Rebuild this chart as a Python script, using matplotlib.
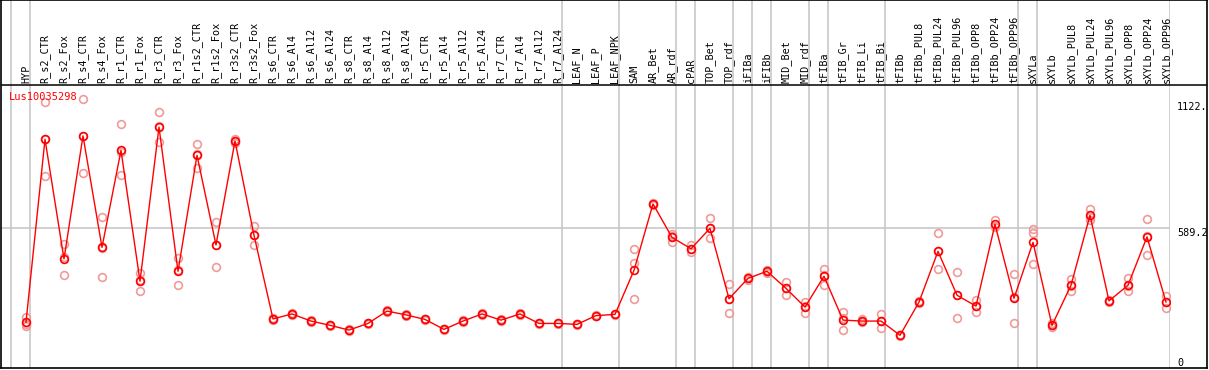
import numpy as np
import matplotlib
matplotlib.use('Agg')
import matplotlib.pyplot as plt
import matplotlib.transforms as mtransforms

# sample names (x categories)
samples = ['HYP', 'R_s2_CTR', 'R_s2_Fox', 'R_s4_CTR', 'R_s4_Fox', 'R_r1_CTR', 'R_r1_Fox',
           'R_r3_CTR', 'R_r3_Fox', 'R_r1s2_CTR', 'R_r1s2_Fox', 'R_r3s2_CTR', 'R_r3s2_Fox',
           'R_s6_CTR', 'R_s6_Al4', 'R_s6_Al12', 'R_s6_Al24', 'R_s8_CTR', 'R_s8_Al4', 'R_s8_Al12',
           'R_s8_Al24', 'R_r5_CTR', 'R_r5_Al4', 'R_r5_Al12', 'R_r5_Al24', 'R_r7_CTR', 'R_r7_Al4',
           'R_r7_Al12', 'R_r7_Al24', 'LEAF_N', 'LEAF_P', 'LEAF_NPK', 'SAM', 'AR_Bet', 'AR_rdf',
           'cPAR', 'TOP_Bet', 'TOP_rdf', 'iFIBa', 'iFIBb', 'MID_Bet', 'MID_rdf', 'tFIBa',
           'tFIB_Gr', 'tFIB_Li', 'tFIB_Bi', 'tFIBb', 'tFIBb_PUL8', 'tFIBb_PUL24', 'tFIBb_PUL96',
           'tFIBb_OPP8', 'tFIBb_OPP24', 'tFIBb_OPP96', 'sXYLa', 'sXYLb', 'sXYLb_PUL8',
           'sXYLb_PUL24', 'sXYLb_PUL96', 'sXYLb_OPP8', 'sXYLb_OPP24', 'sXYLb_OPP96']

# first sample of each group (vertical separators), last entry closes the final group
group_starts = [0, 1, 29, 32, 35, 36, 38, 39, 40, 42, 43, 46, 53, 54, 61]

# mean expression
mean_expr = [193, 965, 460, 979, 509, 918, 366, 1016, 408, 897, 519, 957, 560,
             207, 228, 198, 180, 160, 188, 240,
             224, 205, 163, 198, 228, 202, 228, 188, 188, 184, 221, 226,
             412, 692, 551, 503, 589, 292, 378, 408, 336,
             257, 387, 202, 198, 198, 138, 278, 492, 307, 261, 606, 294,
             530, 180, 349, 644, 283, 349, 553, 278]

# replicates
rep1 = [216, 1120, 522, 1135, 637, 1028, 402, 1078, 463, 944, 614, 965, 599,
        210, 231, 201, 183, 163, 191, 243,
        227, 208, 166, 201, 231, 205, 231, 191, 191, 187, 224, 229,
        501, 697, 565, 520, 631, 353, 385, 415, 362,
        278, 418, 236, 205, 227, 141, 281, 568, 404, 287, 624, 395,
        585, 188, 375, 671, 287, 378, 627, 304]
rep2 = [177, 809, 391, 822, 383, 813, 325, 952, 349, 845, 426, 948, 517,
        204, 225, 195, 177, 157, 185, 237,
        221, 202, 160, 195, 225, 199, 225, 185, 185, 181, 218, 223,
        292, 686, 533, 488, 547, 231, 372, 402, 307,
        231, 351, 159, 192, 167, 135, 275, 416, 210, 235, 596, 189,
        568, 172, 326, 624, 279, 324, 475, 254]
rep3 = [186, 965, 467, 980, 508, 913, 371, 1019, 412, 902, 517, 958, 563,
        207, 228, 198, 180, 160, 188, 240,
        224, 205, 163, 198, 228, 202, 228, 188, 188, 184, 221, 226,
        442, 692, 556, 502, 590, 293, 378, 407, 339,
        263, 391, 212, 198, 200, 138, 278, 492, 307, 262, 598, 298,
        439, 180, 346, 637, 283, 345, 556, 277]

gene = 'Lus10035298'
ytick_vals = [0, 589.2, 1122]
ytick_text = ['0', '589.2', '1122.']

W, H = 1209, 370
fig = plt.figure(figsize=(W / 100, H / 100), dpi=100)
fig.patch.set_facecolor('white')

# pixel geometry
x_left, x_right = 1, 1170
y_sep, y_bot = 85, 368
px_per_cat, x0_px = 19, 26

ax = fig.add_axes([x_left / W, (H - y_bot) / H, (x_right - x_left) / W, (y_bot - y_sep) / H])
ax_lab = fig.add_axes([x_left / W, (H - y_sep) / H, (x_right - x_left) / W, y_sep / H], sharex=ax)

xlim = ((x_left - x0_px) / px_per_cat, (x_right - x0_px) / px_per_cat)
ax.set_xlim(*xlim)
ax.set_ylim(0, (y_bot - y_sep) * 4.218)
ax_lab.set_ylim(0, 1)

for a in (ax, ax_lab):
    a.set_axis_off()
    for g in group_starts:
        a.axvline(g - 0.79, color='#c4c4c4', lw=1.1, zorder=0)

ax.axhline(589.2, color='#c4c4c4', lw=1.1, zorder=0)

x = np.arange(len(samples))
mk = dict(marker='o', markersize=5.6, mfc='none', linestyle='none', mew=1.2)
for rep in (rep1, rep2, rep3):
    ax.plot(x, rep, mec='#f09a9a', zorder=2, **mk)
ax.plot(x, mean_expr, color='#ff0000', lw=1, zorder=3)
ax.plot(x, mean_expr, mec='#ff0000', zorder=4, **mk)

mono = 'DejaVu Sans Mono'
for i, s in enumerate(samples):
    ax_lab.text(i, 0.025, s, rotation=90, ha='center', va='bottom',
                fontsize=7.3, family=mono, color='black')

ax.text(-0.9, 1 - 12 / (y_bot - y_sep), gene,
        transform=mtransforms.blended_transform_factory(ax.transData, ax.transAxes),
        fontsize=7.5, family=mono, color='#ff0000', ha='left', va='center')

trans = mtransforms.blended_transform_factory(fig.transFigure, ax.transData)
for v, t in zip(ytick_vals, ytick_text):
    ax.text(1177 / W, v, t, transform=trans, fontsize=7.3, family=mono,
            ha='left', va='bottom' if v == 0 else 'top', clip_on=False)

# outer frame and label separator
frame = fig.add_axes([x_left / W, (H - y_bot) / H, (1207 - x_left) / W, y_bot / H])
frame.patch.set_alpha(0)
frame.set_xticks([])
frame.set_yticks([])
frame.set_xlim(0, 1)
frame.set_ylim(0, y_bot)
frame.axhline(y_bot - y_sep, color='black', lw=1.1)
for sp in frame.spines.values():
    sp.set_linewidth(1.2)
    sp.set_color('black')

fig.savefig('out.png', dpi=100)
